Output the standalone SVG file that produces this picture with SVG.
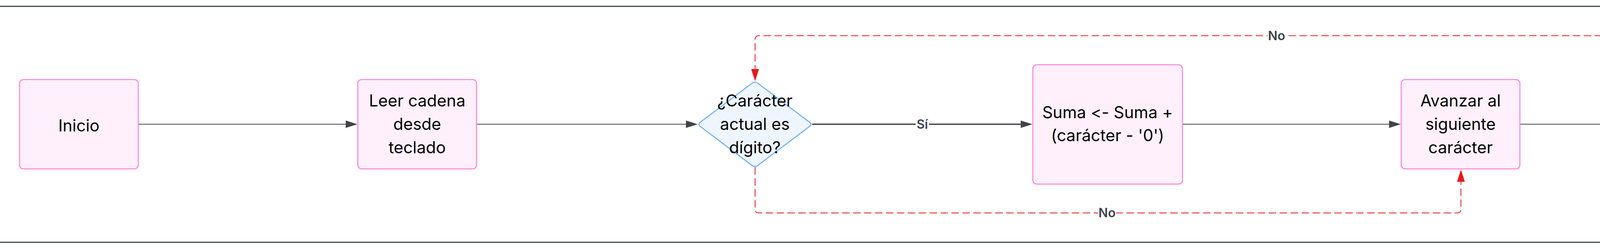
<svg xmlns="http://www.w3.org/2000/svg" width="6576" height="641" viewBox="0 0 6576 641">
<style>
.frame{stroke:#40454c;stroke-width:3;fill:none}
.box{fill:#fff0fb;stroke:#ff80df;stroke-width:2.6}
.dia{fill:#eef5ff;stroke:#6aaff5;stroke-width:2.6}
.t{font-family:Inter,"Noto Sans","Liberation Sans",sans-serif;font-size:42px;fill:#000;text-anchor:middle;font-variant-ligatures:none;font-feature-settings:"calt" 0,"liga" 0}
.e{fill:none;stroke:#40454c;stroke-width:2}
.ey{fill:none;stroke:#40454c;stroke-width:3.3}
.en{fill:none;stroke:#e8161b;stroke-width:2;stroke-dasharray:19 9}
.lbg{fill:#ffffff}
.lb{font-family:Inter,"Noto Sans","Liberation Sans",sans-serif;font-size:32px;font-weight:600;fill:#3d434b;text-anchor:middle}
</style>
<defs>
<marker id="ag" viewBox="0 0 30 19" refX="4" refY="9.5" markerWidth="30" markerHeight="19" markerUnits="userSpaceOnUse" orient="auto"><path d="M0 0 L30 9.5 L0 19 Z" fill="#40454c"/></marker>
<marker id="ar" viewBox="0 0 31 20" refX="4" refY="10" markerWidth="31" markerHeight="20" markerUnits="userSpaceOnUse" orient="auto"><path d="M0 0 L31 10 L0 20 Z" fill="#e8161b"/></marker>
<path id="diamond" d="M -7.18 -105.58 Q 0 -111 7.18 -105.58 L 139.82 -5.42 Q 147 0 139.82 5.42 L 7.18 105.58 Q 0 111 -7.18 105.58 L -139.82 5.42 Q -147 0 -139.82 -5.42 Z"/>
</defs>
<rect width="6576" height="641" fill="#ffffff"/>
<line class="frame" x1="0" y1="16.3" x2="6576" y2="16.3"/>
<line class="frame" x1="0" y1="621.3" x2="6576" y2="621.3"/>

<g id="connectors">
<path class="e" d="M355 318.5 H889" marker-end="url(#ag)"/>
<path class="e" d="M1221 318.5 H1760" marker-end="url(#ag)"/>
<path class="ey" d="M2079 318.5 H2617" marker-end="url(#ag)"/>
<path class="e" d="M3028 318.5 H3560" marker-end="url(#ag)"/>
<path class="e" d="M3891 318.5 H4430" marker-end="url(#ag)"/>
<path class="ey" d="M4750 318.5 H5290" marker-end="url(#ag)"/>
<path class="e" d="M5620 318.5 H6155" marker-end="url(#ag)"/>
<path class="en" d="M4604 209 V101.5 Q4604 91.5 4594 91.5 H1943 Q1933 91.5 1933 101.5 V181" marker-end="url(#ar)"/>
<path class="en" d="M1933 429 V536 Q1933 546 1943 546 H3730 Q3740 546 3740 536 V462" marker-end="url(#ar)"/>
<g id="label-si-1"><rect class="lbg" x="2344" y="301" width="34" height="36"/><text class="lb" x="2361" y="330">Sí</text></g>
<g id="label-si-2"><rect class="lbg" x="5017" y="301" width="34" height="36"/><text class="lb" x="5034" y="330">Sí</text></g>
<g id="label-no-top"><rect class="lbg" x="3245" y="74" width="46" height="36"/><text class="lb" x="3268" y="102.5">No</text></g>
<g id="label-no-bottom"><rect class="lbg" x="2811" y="528" width="46" height="36"/><text class="lb" x="2834" y="557">No</text></g>
</g>

<g id="inicio"><rect class="box" x="50" y="204" width="304" height="229" rx="10"/><text class="t" x="202" y="337">Inicio</text></g>
<g id="leer"><rect class="box" x="916" y="204" width="304" height="229" rx="10"/><text class="t" x="1068" y="273">Leer cadena</text><text class="t" x="1068" y="333">desde</text><text class="t" x="1068" y="393">teclado</text></g>
<g id="esdigito"><use href="#diamond" class="dia" transform="translate(1932.5 318.8)"/><text class="t" x="1932.5" y="273">¿Carácter</text><text class="t" x="1932.5" y="333">actual es</text><text class="t" x="1932.5" y="393">dígito?</text></g>
<g id="suma"><rect class="box" x="2644" y="166" width="383" height="306" rx="10"/><text class="t" x="2835.5" y="302.5">Suma &lt;- Suma +</text><text class="t" x="2835.5" y="362">(carácter - '0')</text></g>
<g id="avanzar"><rect class="box" x="3587" y="204" width="304" height="229" rx="10"/><text class="t" x="3739" y="273">Avanzar al</text><text class="t" x="3739" y="333">siguiente</text><text class="t" x="3739" y="393">carácter</text></g>
<g id="fincadena"><use href="#diamond" class="dia" transform="translate(4603 319.3)"/><text class="t" x="4603" y="255">¿Fin de</text><text class="t" x="4603" y="315">cadena /</text><text class="t" x="4603" y="375">newline /</text><text class="t" x="4603" y="436">NUL?</text></g>
<g id="imprimir"><rect class="box" x="5316" y="204" width="304" height="229" rx="10"/><text class="t" x="5468" y="302">Imprimir</text><text class="t" x="5468" y="362">Suma</text></g>
<g id="fin"><rect class="box" x="6182" y="204" width="304" height="229" rx="10"/><text class="t" x="6334" y="337">Fin</text></g>
</svg>
